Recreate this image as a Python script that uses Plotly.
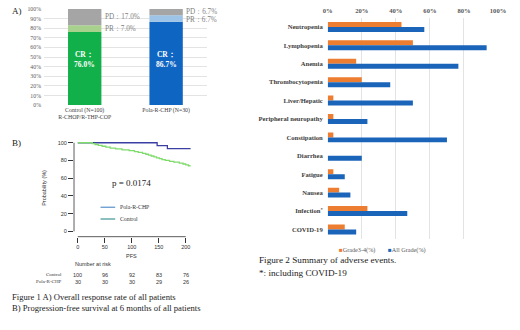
import plotly.graph_objects as go

# ---------------- Data ----------------
# Panel A: response rates (%)
arms = ["Control (N=100)<br>R-CHOP/R-THP-COP", "Pola-R-CHP (N=30)"]
cr = [76.0, 86.7]
pr = [7.0, 6.7]
pd_ = [17.0, 6.7]

# Panel B: Kaplan-Meier PFS (%)
ctrl_t = [0, 27, 32, 38, 45, 52, 60, 70, 82, 95, 105, 112, 120, 126, 131, 136, 141, 146, 151, 156, 162, 170, 178, 188, 195, 200, 205, 209]
ctrl_s = [100, 99, 98, 97, 96, 95, 94, 93, 92, 91, 90, 89, 88, 87, 86, 85, 84, 83, 82, 81, 80, 79, 78, 77, 76, 75, 74, 74]
pola_t = [0, 147, 166, 209]
pola_s = [100, 96.7, 93.3, 93.3]
risk_times = [0, 50, 100, 150, 200]
risk_ctrl = [100, 96, 92, 83, 76]
risk_pola = [30, 30, 30, 29, 26]

# Right panel: adverse events (%)
ae_names = ["Neutropenia", "Lymphopenia", "Anemia", "Thrombocytopenia", "Liver/Hepatic",
            "Peripheral neuropathy", "Constipation", "Diarrhea", "Fatigue", "Nausea",
            "Infection<sup>*</sup>", "COVID-19"]
grade34 = [43.3, 50.0, 16.7, 20.0, 3.3, 3.3, 3.3, 0.0, 3.3, 6.7, 23.3, 10.0]
allgrade = [56.7, 93.3, 76.7, 36.7, 50.0, 23.3, 70.0, 20.0, 10.0, 13.3, 46.7, 16.7]

SERIF = "Liberation Serif"
SANS = "Liberation Sans"
W, H = 520, 330
ORANGE, BLUE = "#ed7d31", "#1a64b9"

def py(p):
    return 1 - p / H

fig = go.Figure()

# ---------- Panel A: stacked bars ----------
bw = 0.41
colsA = {"CR": ["#12b04a", "#0f66c2"], "PR": ["#a9d18e", "#9dc3e6"], "PD": ["#a5a5a5", "#a5a5a5"]}
base_pr = [c for c in cr]
base_pd = [c + p for c, p in zip(cr, pr)]
for vals, base, key in [(cr, [0, 0], "CR"), (pr, base_pr, "PR"), (pd_, base_pd, "PD")]:
    fig.add_trace(go.Bar(x=arms, y=vals, base=base, width=bw, offset=-bw / 2,
                         marker=dict(color=colsA[key], line=dict(width=0)),
                         xaxis="x", yaxis="y", showlegend=False, hoverinfo="skip"))

annotations = []
for i, a in enumerate(arms):
    annotations.append(dict(x=a, y=47.5, xref="x", yref="y",
                            text=f"<b>CR：<br>{cr[i]:.1f}%</b>", showarrow=False,
                            font=dict(family=SERIF, size=7.5, color="white")))
side = [(0, cr[0] + pr[0] / 2, f"PR：{pr[0]:.1f}%", 0),
        (0, cr[0] + pr[0] + pd_[0] / 2, f"PD：{pd_[0]:.1f}%", 0),
        (1, cr[1] + pr[1] / 2, f"PR：{pr[1]:.1f}%", -2),
        (1, cr[1] + pr[1] + pd_[1] / 2, f"PD：{pd_[1]:.1f}%", 0)]
for i, yv, txt, ys in side:
    annotations.append(dict(x=arms[i], y=yv, xref="x", yref="y", xanchor="left",
                            xshift=18, yshift=ys, text=txt, showarrow=False,
                            font=dict(family=SERIF, size=7.2, color="#7f7f7f")))

# ---------- Panel B: KM curves ----------
fig.add_trace(go.Scatter(x=pola_t, y=pola_s, mode="lines", line=dict(color="#3b3fa3", width=1.3, shape="hv"),
                         xaxis="x2", yaxis="y2", showlegend=False, hoverinfo="skip"))
fig.add_trace(go.Scatter(x=ctrl_t, y=ctrl_s, mode="lines", line=dict(color="#7fdc6c", width=1.3, shape="hv"),
                         xaxis="x2", yaxis="y2", showlegend=False, hoverinfo="skip"))

annotations.append(dict(x=100, y=55, xref="x2", yref="y2", text="p = 0.0174", showarrow=False,
                        font=dict(family=SERIF, size=9, color="#222")))
annotations.append(dict(x=100, y=py(258), xref="x2", yref="paper", text="PFS", showarrow=False,
                        font=dict(family=SANS, size=5.5, color="#333")))
annotations.append(dict(x=70 / W, y=py(266), xref="paper", yref="paper", xanchor="left",
                        text="Number at risk", showarrow=False,
                        font=dict(family=SANS, size=5.5, color="#333")))
annotations.append(dict(x=60 / W, y=py(276.7), xref="paper", yref="paper", xanchor="right",
                        text="Control", showarrow=False, font=dict(family=SERIF, size=5, color="#333")))
annotations.append(dict(x=60 / W, y=py(284), xref="paper", yref="paper", xanchor="right",
                        text="Pola-R-CHP", showarrow=False, font=dict(family=SERIF, size=5, color="#333")))
for t, c, p in zip(risk_times, risk_ctrl, risk_pola):
    annotations.append(dict(x=t, y=py(276.7), xref="x2", yref="paper", text=str(c), showarrow=False,
                            font=dict(family=SANS, size=5.5, color="#333")))
    annotations.append(dict(x=t, y=py(284), xref="x2", yref="paper", text=str(p), showarrow=False,
                            font=dict(family=SANS, size=5.5, color="#333")))

# KM legend (drawn manually; colours as in the original)
km_legend = [("Pola-R-CHP", "#4a86c5", 208), ("Control", "#2e8b8b", 220)]
shapes = []
for name, col, yy in km_legend:
    shapes.append(dict(type="line", xref="paper", yref="paper", x0=98 / W, x1=113 / W,
                       y0=py(yy), y1=py(yy), line=dict(color=col, width=1.1)))
    annotations.append(dict(x=116 / W, y=py(yy), xref="paper", yref="paper", xanchor="left",
                            text=name, showarrow=False, font=dict(family=SERIF, size=5.8, color="#333")))

# KM axis lines (R style, spanning data extent only)
shapes += [
    dict(type="line", xref="x2 domain", yref="y2", x0=0, x1=0, y0=0, y1=100,
         line=dict(color="#333", width=0.8)),
    dict(type="line", xref="x2", yref="y2 domain", x0=0, x1=200, y0=0, y1=0,
         line=dict(color="#333", width=0.8)),
]

# ---------- Right panel: AE bars ----------
bh = 0.27
fig.add_trace(go.Bar(y=ae_names, x=grade34, orientation="h", width=bh, offset=-bh,
                     marker=dict(color=ORANGE, line=dict(width=0)), showlegend=False,
                     xaxis="x3", yaxis="y3", hoverinfo="skip"))
fig.add_trace(go.Bar(y=ae_names, x=allgrade, orientation="h", width=bh, offset=0,
                     marker=dict(color=BLUE, line=dict(width=0)), showlegend=False,
                     xaxis="x3", yaxis="y3", hoverinfo="skip"))

annotations.append(dict(x=340 / W, y=py(252), xref="paper", yref="paper", xanchor="left",
                        text=f'<span style="color:{ORANGE}">■</span>Grade3-4(%)', showarrow=False,
                        font=dict(family=SERIF, size=6.2, color="#595959")))
annotations.append(dict(x=391 / W, y=py(252), xref="paper", yref="paper", xanchor="left",
                        text=f'<span style="color:{BLUE}">■</span>All Grade(%)', showarrow=False,
                        font=dict(family=SERIF, size=6.2, color="#595959")))

# Titles / captions
annotations += [
    dict(x=5 / W, y=py(8), xref="paper", yref="paper", xanchor="left", text="A)", showarrow=False,
         font=dict(family=SERIF, size=9, color="#222")),
    dict(x=5 / W, y=py(143), xref="paper", yref="paper", xanchor="left", text="B)", showarrow=False,
         font=dict(family=SERIF, size=9, color="#222")),
    dict(x=5 / W, y=py(299), xref="paper", yref="paper", xanchor="left",
         text="Figure 1 A) Overall response rate of all patients", showarrow=False,
         font=dict(family=SERIF, size=8.6, color="#222")),
    dict(x=5 / W, y=py(311), xref="paper", yref="paper", xanchor="left",
         text="B) Progression-free survival at 6 months of all patients", showarrow=False,
         font=dict(family=SERIF, size=8.6, color="#222")),
    dict(x=258 / W, y=py(262), xref="paper", yref="paper", xanchor="left",
         text="Figure 2 Summary of adverse events.", showarrow=False,
         font=dict(family=SERIF, size=9.2, color="#222")),
    dict(x=258 / W, y=py(274.5), xref="paper", yref="paper", xanchor="left",
         text="*: including COVID-19", showarrow=False,
         font=dict(family=SERIF, size=9.2, color="#222")),
]
for a in annotations:
    a.setdefault("yanchor", "middle")
    a.setdefault("xanchor", "center")

fig.update_layout(
    width=W, height=H, margin=dict(l=0, r=0, t=0, b=0),
    paper_bgcolor="white", plot_bgcolor="white",
    barmode="overlay", showlegend=False,
    annotations=annotations, shapes=shapes,
    xaxis=dict(domain=[40 / W, 207 / W], range=[-0.5, 1.5], showgrid=False, zeroline=False,
               showline=False, ticks="", tickfont=dict(family=SERIF, size=5.8, color="#404040"),
               anchor="y", fixedrange=True, ticklabelstandoff=0),
    yaxis=dict(domain=[py(104), py(6)], range=[0, 100], dtick=10, ticksuffix="%",
               showgrid=True, gridcolor="#e3e3e3", gridwidth=0.8, zeroline=False,
               tickfont=dict(family=SERIF, size=5.8, color="#595959"), anchor="x",
               ticklabelstandoff=2),
    xaxis2=dict(domain=[70.8 / W, 192 / W], range=[-7, 212], tickvals=risk_times,
                showgrid=False, zeroline=False, showline=False, ticks="outside", ticklen=5,
                tickcolor="#333", tickwidth=0.8,
                tickfont=dict(family=SANS, size=5.5, color="#333"), anchor="y2"),
    yaxis2=dict(domain=[py(238), py(138.7)], range=[-6, 104], tickvals=[0, 20, 40, 60, 80, 100],
                showgrid=False, zeroline=False, showline=False, ticks="outside", ticklen=5,
                tickcolor="#333", tickwidth=0.8,
                tickfont=dict(family=SANS, size=5.5, color="#333"), anchor="x2",
                title=dict(text="Probability (%)", font=dict(family=SANS, size=5.5, color="#333"),
                           standoff=10)),
    xaxis3=dict(domain=[331 / W, 505.7 / W], range=[0, 100], side="top",
                tickvals=[0, 20, 40, 60, 80, 100],
                ticktext=["<b>0%</b>", "<b>20%</b>", "<b>40%</b>", "<b>60%</b>", "<b>80%</b>", "<b>100%</b>"],
                showgrid=True, gridcolor="#e3e3e3", gridwidth=0.8, zeroline=False, showline=False,
                tickfont=dict(family=SERIF, size=6.6, color="#595959"), anchor="y3",
                ticklabelstandoff=2),
    yaxis3=dict(domain=[py(240), py(15)], categoryorder="array", categoryarray=ae_names,
                tickvals=ae_names, ticktext=[f"<b>{n}</b>" for n in ae_names],
                autorange="reversed", showgrid=False, zeroline=False, showline=False,
                tickfont=dict(family=SERIF, size=6.6, color="#404040"), anchor="x3",
                ticklabelstandoff=4),
)

fig.write_html("out.html", config={"displayModeBar": False},
               post_script="document.body.style.margin='0';document.body.style.overflow='hidden';")
